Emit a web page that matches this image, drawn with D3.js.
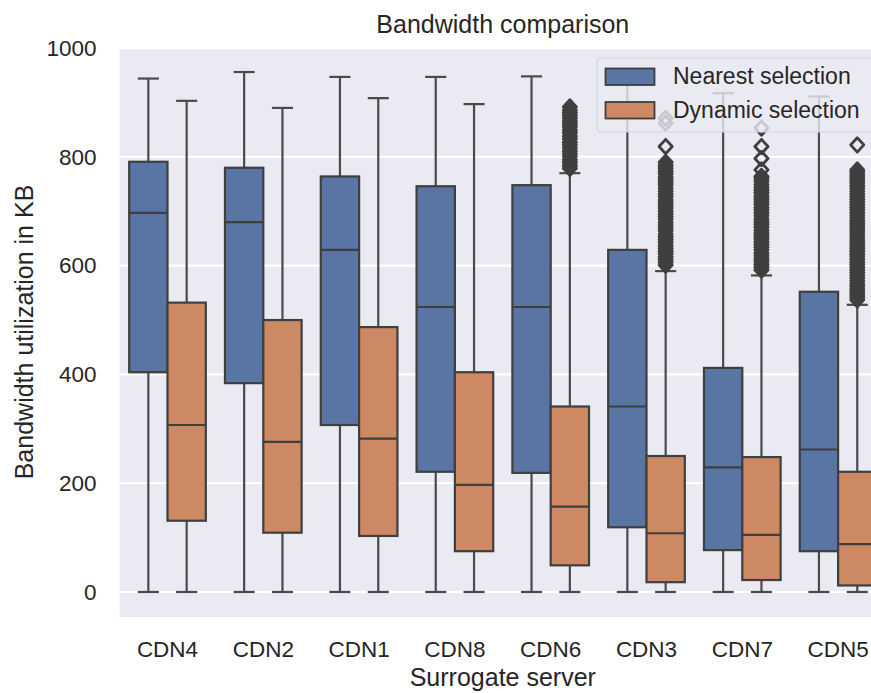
<!DOCTYPE html>
<html>
<head>
<meta charset="utf-8">
<script src="https://cdn.jsdelivr.net/npm/d3@7"></script>
<style>
  html, body { margin: 0; padding: 0; background: #ffffff; }
  svg { display: block; font-family: "Liberation Sans", Arial, sans-serif; }
</style>
</head>
<body>
<svg id="chart" width="871" height="693"></svg>
<script>
// ---- data -------------------------------------------------------------
const categories = ["CDN4", "CDN2", "CDN1", "CDN8", "CDN6", "CDN3", "CDN7", "CDN5"];
const seriesNames = ["Nearest selection", "Dynamic selection"];
const yTicks = [0, 200, 400, 600, 800, 1000];

// Box statistics per server (KB)
const nearestLow    = [0, 0, 0, 0, 0, 0, 0, 0];
const nearestQ1     = [404, 384, 307, 221, 219, 119, 77, 75];
const nearestMedian = [697, 680, 629, 524, 524, 341, 229, 262];
const nearestQ3     = [791, 780, 764, 746, 748, 629, 412, 552];
const nearestHigh   = [944, 956, 947, 947, 948, 940, 917, 911];

const dynamicLow    = [0, 0, 0, 0, 0, 0, 0, 0];
const dynamicQ1     = [131, 109, 103, 75, 49, 18, 22, 12];
const dynamicMedian = [307, 276, 282, 197, 157, 108, 105, 88];
const dynamicQ3     = [532, 500, 487, 404, 341, 250, 248, 221];
const dynamicHigh   = [903, 890, 908, 897, 770, 590, 582, 528];

// Outliers of the dynamic selection (empty where none)
const dynamicOutliersCDN6 = [779, 784, 790, 795, 801, 806, 811, 817, 822, 827, 833, 838,
  844, 849, 855, 860, 865, 871, 876, 881, 886, 892];
const dynamicOutliersCDN3 = [601, 606, 611, 616, 622, 627, 632, 637, 643, 648, 653, 658,
  664, 669, 674, 679, 685, 690, 695, 700, 706, 711, 716, 721, 727, 732, 737, 742, 748,
  753, 758, 763, 769, 774, 779, 784, 790, 819, 862, 871];
const dynamicOutliersCDN7 = [592, 597, 602, 608, 613, 618, 623, 629, 634, 639, 644, 650,
  655, 660, 665, 671, 676, 681, 686, 692, 697, 702, 707, 713, 718, 723, 728, 734, 739,
  744, 749, 755, 760, 764, 776, 797, 819, 853];
const dynamicOutliersCDN5 = [537, 542, 547, 552, 557, 562, 567, 572, 577, 582, 587, 592,
  597, 602, 607, 612, 617, 622, 627, 632, 637, 642, 647, 652, 657, 662, 667, 672, 677,
  682, 687, 692, 697, 702, 707, 712, 717, 722, 727, 732, 737, 742, 747, 752, 757, 762,
  767, 772, 776, 822];
const dynamicOutliers = [[], [], [], [], dynamicOutliersCDN6, dynamicOutliersCDN3,
  dynamicOutliersCDN7, dynamicOutliersCDN5];

const seriesColors = ["#5875a4", "#cc8963"];

// ---- layout -----------------------------------------------------------
const plot = { left: 119.6, right: 886, top: 47, bottom: 617 };
const svg = d3.select("#chart");
const lineColor = "#3f3f3f";
const whiskerColor = "#4a4a4a";
const textColor = "#262626";

const x = d3.scaleBand().domain(categories).range([plot.left, plot.right]).padding(0);
const xHue = d3.scaleBand().domain(seriesNames).range([0, x.bandwidth()])
  .paddingInner(0).paddingOuter(0.25);
const y = d3.scaleLinear().domain([-46, 1002]).range([plot.bottom, plot.top]);

// background
svg.append("rect")
  .attr("x", plot.left).attr("y", plot.top)
  .attr("width", plot.right - plot.left).attr("height", plot.bottom - plot.top)
  .attr("fill", "#eaeaf2");

// horizontal grid
svg.append("g").selectAll("line").data(yTicks).join("line")
  .attr("x1", plot.left).attr("x2", plot.right)
  .attr("y1", d => y(d)).attr("y2", d => y(d))
  .attr("stroke", "#ffffff").attr("stroke-width", 2.2);

// y axis (labels only, darkgrid style)
const yAxis = d3.axisLeft(y).tickValues(yTicks).tickFormat(d3.format("d"))
  .tickSize(0).tickPadding(23);
const gy = svg.append("g").attr("transform", `translate(${plot.left},0)`).call(yAxis);
gy.select(".domain").remove();
gy.selectAll("text").attr("font-size", 22.5).attr("fill", textColor)
  .attr("font-family", "Liberation Sans, Arial, sans-serif");

// x axis
const xAxis = d3.axisBottom(x).tickSize(0).tickPadding(0);
const gx = svg.append("g").attr("transform", `translate(0,${plot.bottom})`).call(xAxis);
gx.select(".domain").remove();
gx.selectAll("text").attr("font-size", 22.5).attr("fill", textColor)
  .attr("dy", null).attr("y", 40)
  .attr("font-family", "Liberation Sans, Arial, sans-serif");

// ---- boxes ------------------------------------------------------------
const boxes = [];
categories.forEach((c, i) => {
  boxes.push({ cat: c, s: 0, low: nearestLow[i], q1: nearestQ1[i], med: nearestMedian[i],
    q3: nearestQ3[i], high: nearestHigh[i], out: [] });
  boxes.push({ cat: c, s: 1, low: dynamicLow[i], q1: dynamicQ1[i], med: dynamicMedian[i],
    q3: dynamicQ3[i], high: dynamicHigh[i], out: dynamicOutliers[i] });
});

const bw = xHue.bandwidth();
const capW = bw * 0.55;
const gBoxes = svg.append("g");

boxes.forEach(b => {
  const cx = x(b.cat) + xHue(seriesNames[b.s]) + bw / 2;
  const g = gBoxes.append("g");
  // whiskers
  g.append("line").attr("x1", cx).attr("x2", cx).attr("y1", y(b.q3)).attr("y2", y(b.high))
    .attr("stroke", whiskerColor).attr("stroke-width", 2.2);
  g.append("line").attr("x1", cx).attr("x2", cx).attr("y1", y(b.q1)).attr("y2", y(b.low))
    .attr("stroke", whiskerColor).attr("stroke-width", 2.2);
  // caps
  [b.high, b.low].forEach(v => {
    g.append("line").attr("x1", cx - capW / 2).attr("x2", cx + capW / 2)
      .attr("y1", y(v)).attr("y2", y(v))
      .attr("stroke", whiskerColor).attr("stroke-width", 2.2);
  });
  // box
  g.append("rect")
    .attr("x", cx - bw / 2).attr("width", bw)
    .attr("y", y(b.q3)).attr("height", y(b.q1) - y(b.q3))
    .attr("fill", seriesColors[b.s]).attr("stroke", lineColor).attr("stroke-width", 2.2);
  // median
  g.append("line").attr("x1", cx - bw / 2).attr("x2", cx + bw / 2)
    .attr("y1", y(b.med)).attr("y2", y(b.med))
    .attr("stroke", lineColor).attr("stroke-width", 2.2);
  // outliers (hollow diamonds)
  const dh = 7.2, dw = 6.6;
  g.append("g").selectAll("path").data(b.out).join("path")
    .attr("d", v => {
      const py = y(v);
      return `M${cx},${py - dh}L${cx + dw},${py}L${cx},${py + dh}L${cx - dw},${py}Z`;
    })
    .attr("fill", "none").attr("stroke", lineColor).attr("stroke-width", 2.8)
    .attr("stroke-linejoin", "round");
});

// ---- legend -----------------------------------------------------------
const lg = svg.append("g").attr("transform", "translate(597,58)");
lg.append("rect").attr("width", 279).attr("height", 74).attr("rx", 4)
  .attr("fill", "#eaeaf2").attr("fill-opacity", 0.8)
  .attr("stroke", "#d4d4dc").attr("stroke-width", 1.2);
seriesNames.forEach((name, i) => {
  const row = lg.append("g").attr("transform", `translate(0,${i * 33.5})`);
  row.append("rect").attr("x", 8.5).attr("y", 10.5).attr("width", 49).attr("height", 16.5)
    .attr("fill", seriesColors[i]).attr("stroke", lineColor).attr("stroke-width", 1.8);
  row.append("text").attr("x", 76).attr("y", 26.3).text(name)
    .attr("font-size", 23).attr("fill", textColor);
});

// ---- titles -----------------------------------------------------------
const midX = (plot.left + plot.right) / 2;
svg.append("text").attr("x", midX).attr("y", 33).attr("text-anchor", "middle")
  .attr("font-size", 25).attr("fill", textColor).text("Bandwidth comparison");
svg.append("text").attr("x", midX).attr("y", 686).attr("text-anchor", "middle")
  .attr("font-size", 25).attr("fill", textColor).text("Surrogate server");
svg.append("text")
  .attr("transform", `translate(33,${(plot.top + plot.bottom) / 2}) rotate(-90)`)
  .attr("text-anchor", "middle")
  .attr("font-size", 25).attr("fill", textColor).text("Bandwidth utilization in KB");
</script>
</body>
</html>
